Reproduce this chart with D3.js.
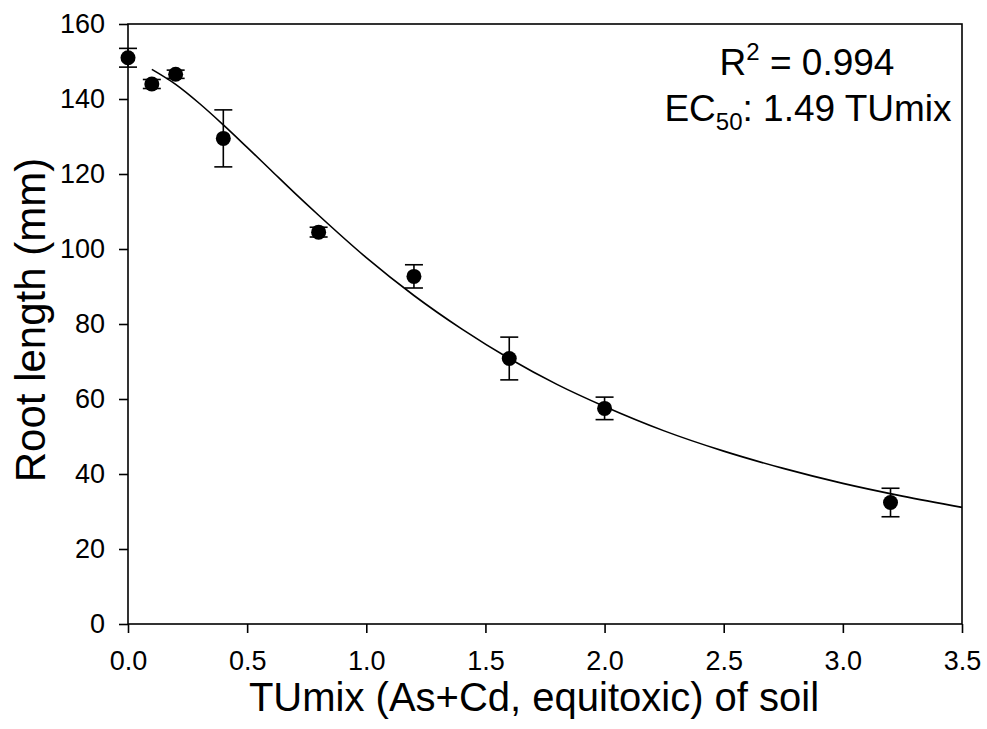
<!DOCTYPE html>
<head>
  <meta charset="utf-8">
  <script src="https://cdnjs.cloudflare.com/ajax/libs/d3/7.8.5/d3.min.js"></script>
  <style>
    body { margin:0; background:#fff; }
    svg { display:block; font-family: "Liberation Sans", Arial, sans-serif; }
  </style>
</head>

<body>
  <script>
    // measured points (TUmix dose, mean root length, error)
    var doseX = [0, 0.1, 0.2, 0.4, 0.8, 1.2, 1.6, 2.0, 3.2];
    var rootMean = [151, 144, 146.6, 129.5, 104.5, 92.7, 70.8, 57.5, 32.4];
    var rootErr = [2.5, 1.2, 1.1, 7.6, 1.3, 3.1, 5.7, 3.0, 3.8];

    // fitted curve
    var fitX = [0.1, 0.2, 0.3, 0.4, 0.5, 0.6, 0.7, 0.8, 1.0, 1.2, 1.4, 1.6, 1.8, 2.0, 2.25, 2.5, 2.75, 3.0, 3.25, 3.5];
    var fitY = [147.9, 143.9, 138.8, 133.1, 127.1, 121.0, 114.9, 109.0, 97.7, 87.6, 78.7, 70.8, 63.9, 58.0, 51.5, 46.1, 41.5, 37.5, 34.1, 31.1];

    var xTicks = [0, 0.5, 1.0, 1.5, 2.0, 2.5, 3.0, 3.5];
    var yTicks = [0, 20, 40, 60, 80, 100, 120, 140, 160];

    var W = 987, H = 729;
    var margin = {top: 24, right: 25, bottom: 105, left: 128};
    var width = W - margin.left - margin.right;
    var height = H - margin.top - margin.bottom;

    var svg = d3.select("body").append("svg")
      .attr("width", W)
      .attr("height", H);
    var g = svg.append("g")
      .attr("transform", "translate(" + margin.left + "," + margin.top + ")");

    var x = d3.scaleLinear().domain([0, 3.5]).range([0, width]);
    var y = d3.scaleLinear().domain([0, 160]).range([height, 0]);

    // frame
    g.append("rect")
      .attr("width", width).attr("height", height)
      .style("fill", "none").style("stroke", "#000").style("stroke-width", 1.6);

    var xAxis = g.append("g")
      .attr("transform", "translate(0," + height + ")")
      .call(d3.axisBottom(x).tickValues(xTicks).tickFormat(d3.format(".1f")).tickSize(9).tickPadding(18));
    var yAxis = g.append("g")
      .call(d3.axisLeft(y).tickValues(yTicks).tickSize(9).tickPadding(14));

    [xAxis, yAxis].forEach(function(a){
      a.select(".domain").remove();
      a.selectAll("line").style("stroke", "#000").style("stroke-width", 1.6);
      a.selectAll("text").style("font-family", "Liberation Sans, Arial, sans-serif")
        .style("font-size", "27px").style("fill", "#000");
    });

    // curve
    var line = d3.line()
      .x(function(d, i){ return x(fitX[i]); })
      .y(function(d){ return y(d); })
      .curve(d3.curveMonotoneX);
    g.append("path").datum(fitY)
      .attr("d", line)
      .style("fill", "none").style("stroke", "#000").style("stroke-width", 1.6);

    // error bars
    var pts = doseX.map(function(d, i){ return {x: d, m: rootMean[i], e: rootErr[i]}; });
    var eb = g.append("g").selectAll("g").data(pts).enter().append("g")
      .style("stroke", "#000").style("stroke-width", 1.6);
    eb.append("line")
      .attr("x1", function(d){ return x(d.x); }).attr("x2", function(d){ return x(d.x); })
      .attr("y1", function(d){ return y(d.m + d.e); }).attr("y2", function(d){ return y(d.m - d.e); });
    [1, -1].forEach(function(s){
      eb.append("line")
        .attr("x1", function(d){ return x(d.x) - 9; }).attr("x2", function(d){ return x(d.x) + 9; })
        .attr("y1", function(d){ return y(d.m + s * d.e); }).attr("y2", function(d){ return y(d.m + s * d.e); });
    });

    g.append("g").selectAll("circle").data(pts).enter().append("circle")
      .attr("cx", function(d){ return x(d.x); })
      .attr("cy", function(d){ return y(d.m); })
      .attr("r", 7.5)
      .style("fill", "#000");

    // annotation
    var t1 = svg.append("text").attr("x", 807).attr("y", 75)
      .attr("text-anchor", "middle").style("font-size", "37px");
    t1.append("tspan").text("R");
    t1.append("tspan").attr("dy", -15).style("font-size", "24px").text("2");
    t1.append("tspan").attr("dy", 15).text(" = 0.994");

    var t2 = svg.append("text").attr("x", 808).attr("y", 121)
      .attr("text-anchor", "middle").style("font-size", "37px");
    t2.append("tspan").text("EC");
    t2.append("tspan").attr("dy", 9).style("font-size", "24px").text("50");
    t2.append("tspan").attr("dy", -9).text(": 1.49 TUmix");

    // axis titles
    svg.append("text")
      .attr("x", 534).attr("y", 711)
      .attr("text-anchor", "middle").style("font-size", "40px")
      .text("TUmix (As+Cd, equitoxic) of soil");

    svg.append("text")
      .attr("transform", "translate(45,320) rotate(-90)")
      .attr("text-anchor", "middle").style("font-size", "42px")
      .text("Root length (mm)");
  </script>
</body>
